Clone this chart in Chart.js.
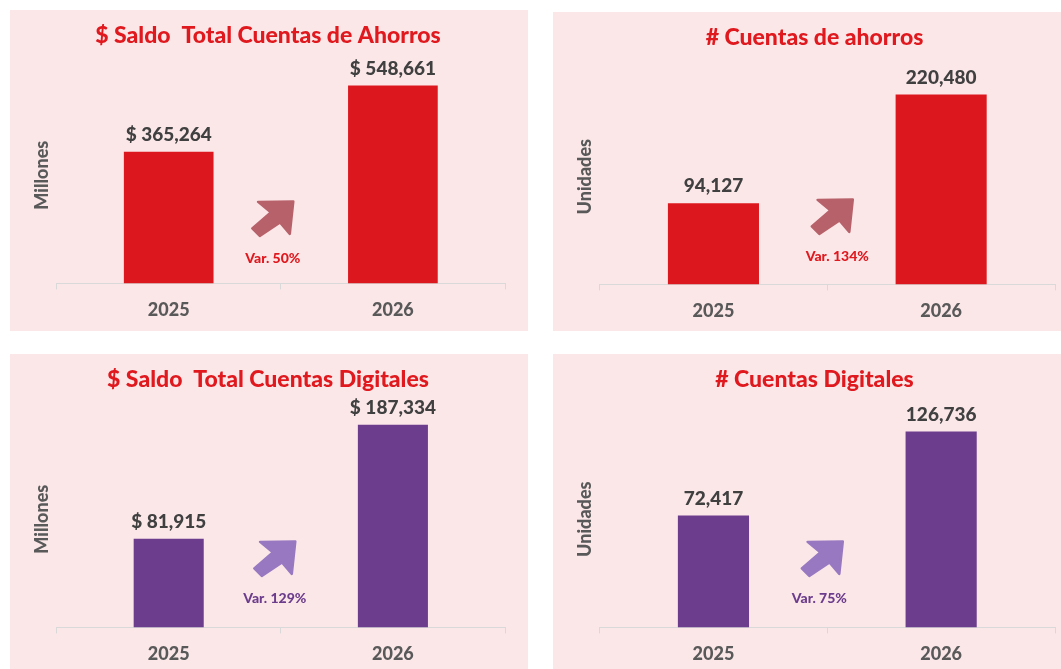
<!DOCTYPE html>
<html lang="es">
<head>
<meta charset="utf-8">
<title>Cuentas de Ahorros y Digitales</title>
<script src="https://cdn.jsdelivr.net/npm/chart.js@4.4.1/dist/chart.umd.min.js"></script>
<style>
    html, body {
        margin: 0;
        padding: 0;
        background: #ffffff;
        overflow: hidden;
        width: 1061px;
        height: 669px;
    }
    .panel {
        position: absolute;
        background: #fbe7e8;
        overflow: hidden;
    }
    .panel canvas {
        position: absolute;
        left: 0;
        top: 0;
    }
</style>
</head>
<body>
<div class="panel" id="p0" style="left:10px; top:10px; width:518px; height:321px;"><canvas id="c0" width="518" height="321"></canvas></div>
<div class="panel" id="p1" style="left:553px; top:12px; width:508px; height:319px;"><canvas id="c1" width="508" height="320"></canvas></div>
<div class="panel" id="p2" style="left:10px; top:354px; width:518px; height:315px;"><canvas id="c2" width="518" height="321"></canvas></div>
<div class="panel" id="p3" style="left:553px; top:354px; width:508px; height:315px;"><canvas id="c3" width="508" height="321"></canvas></div>

<script>
// datos
const categories = ['2025', '2026'];
const saldoAhorros = [365264, 548661];
const cuentasAhorros = [94127, 220480];
const saldoDigitales = [81915, 187334];
const cuentasDigitales = [72417, 126736];
const variaciones = ['Var. 50%', 'Var. 134%', 'Var. 129%', 'Var. 75%'];
const titulos = [
    '$ Saldo  Total Cuentas de Ahorros',
    '# Cuentas de ahorros',
    '$ Saldo  Total Cuentas Digitales',
    '# Cuentas Digitales'
];
const unidades = ['Millones', 'Unidades', 'Millones', 'Unidades'];
const yMax = [600000, 250000, 200000, 140000];

const FONT = 'Lato, "Open Sans", sans-serif';
const RED = '#dc181e';
const PURPLE = '#6c3d8c';

const panels = [
    { canvas: 'c0', data: saldoAhorros, money: true, color: RED, varColor: '#e0191f', arrowColor: '#b7626a', barPct: 0.4, padRight: 23, varDx: -8, varDy: 25, arrowDx: 0 },
    { canvas: 'c1', data: cuentasAhorros, money: false, color: RED, varColor: '#e0191f', arrowColor: '#b7626a', barPct: 0.4, padRight: 6, varDx: 10, varDy: 28, arrowDx: -5 },
    { canvas: 'c2', data: saldoDigitales, money: true, color: PURPLE, varColor: '#6c3d8c', arrowColor: '#9878c0', barPct: 0.3125, padRight: 23, varDx: -6, varDy: 29, arrowDx: 0 },
    { canvas: 'c3', data: cuentasDigitales, money: false, color: PURPLE, varColor: '#6c3d8c', arrowColor: '#9878c0', barPct: 0.3125, padRight: 6, varDx: -8, varDy: 29, arrowDx: 3 }
];

function formatValue(v, money) {
    const s = v.toLocaleString('en-US');
    return money ? '$ ' + s : s;
}

// etiquetas encima de cada barra
const valueLabels = {
    id: 'valueLabels',
    afterDatasetsDraw(chart, args, opts) {
        const ctx = chart.ctx;
        const meta = chart.getDatasetMeta(0);
        const values = chart.data.datasets[0].data;
        ctx.save();
        ctx.font = '900 19px ' + FONT;
        ctx.fillStyle = '#404040';
        ctx.textAlign = 'center';
        ctx.textBaseline = 'middle';
        meta.data.forEach((bar, i) => {
            ctx.fillText(formatValue(values[i], opts.money), bar.x, bar.y - 17);
        });
        ctx.restore();
    }
};

// flecha y texto de variacion
const variation = {
    id: 'variation',
    afterDraw(chart, args, opts) {
        const ctx = chart.ctx;
        const area = chart.chartArea;
        const cx = (area.left + area.right) / 2 + opts.dx;
        const cy = area.bottom - opts.dy;
        const ax = cx + opts.arrowDx;

        const pts = [[-14.7, -56.5], [20.5, -57], [17, -24.5], [7.2, -36], [-13, -22.5], [-20.5, -30], [-2, -46]];
        ctx.save();
        ctx.beginPath();
        pts.forEach((p, i) => {
            if (i === 0) ctx.moveTo(ax + p[0], cy + p[1]);
            else ctx.lineTo(ax + p[0], cy + p[1]);
        });
        ctx.closePath();
        ctx.fillStyle = opts.arrowColor;
        ctx.strokeStyle = opts.arrowColor;
        ctx.lineJoin = 'round';
        ctx.lineWidth = 2.5;
        ctx.fill();
        ctx.stroke();

        ctx.font = '900 14px ' + FONT;
        ctx.fillStyle = opts.color;
        ctx.textAlign = 'center';
        ctx.textBaseline = 'middle';
        ctx.fillText(opts.text, cx, cy);
        ctx.restore();
    }
};

function buildChart(p, i) {
    const ctx = document.getElementById(p.canvas);
    new Chart(ctx, {
        type: 'bar',
        data: {
            labels: categories,
            datasets: [{
                data: p.data,
                backgroundColor: p.color,
                borderWidth: 0,
                barPercentage: p.barPct,
                categoryPercentage: 1
            }]
        },
        options: {
            responsive: false,
            animation: false,
            devicePixelRatio: 1,
            layout: { padding: { left: 21, right: p.padRight, top: 0, bottom: 0 } },
            plugins: {
                legend: { display: false },
                tooltip: { enabled: false },
                title: {
                    display: true,
                    text: titulos[i],
                    color: '#e0191f',
                    font: { family: FONT, size: 23, weight: '900' },
                    padding: { top: 12, bottom: 17.4 }
                },
                valueLabels: { money: p.money },
                variation: { text: variaciones[i], color: p.varColor, arrowColor: p.arrowColor, dx: p.varDx, dy: p.varDy, arrowDx: p.arrowDx }
            },
            scales: {
                x: {
                    grid: { display: true, drawOnChartArea: false, drawTicks: true, tickLength: 6, color: '#d9d9d9', offset: true },
                    border: { display: true, color: '#d9d9d9' },
                    ticks: { color: '#595959', padding: 10, font: { family: FONT, size: 18, weight: '900' } }
                },
                y: {
                    min: 0,
                    max: yMax[i],
                    grid: { display: false, drawTicks: false },
                    border: { display: false },
                    ticks: { display: false },
                    title: {
                        display: true,
                        text: unidades[i],
                        color: '#595959',
                        font: { family: FONT, size: 18, weight: '900' },
                        padding: { top: 0, bottom: 4 }
                    }
                }
            }
        },
        plugins: [valueLabels, variation]
    });
}

document.addEventListener('DOMContentLoaded', function() {
    panels.forEach(buildChart);
});
</script>
</body>
</html>
